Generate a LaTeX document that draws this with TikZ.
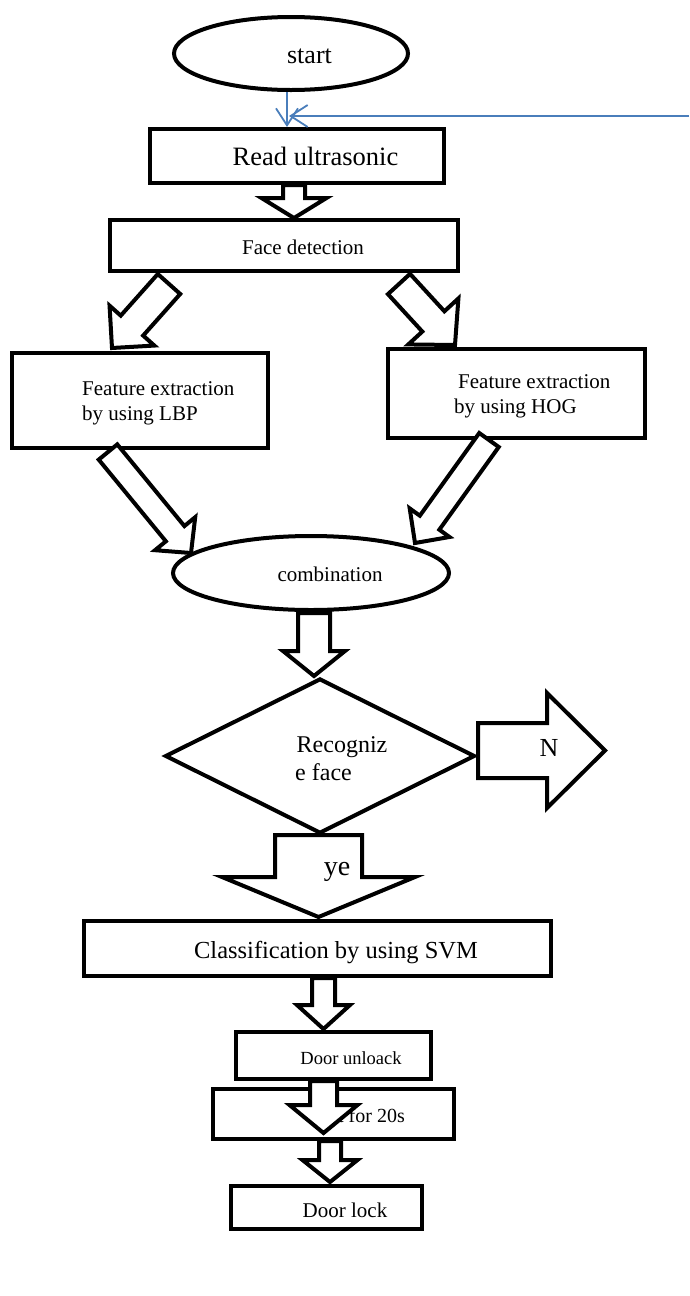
\documentclass[tikz,border=0pt]{standalone}
\usepackage{fontspec}
\setmainfont{Liberation Serif}
\usetikzlibrary{shapes.geometric,calc,arrows.meta}
\definecolor{linkblue}{HTML}{4A7EBB}
\newcommand{\fsz}[1]{\fontsize{#1}{#1}\selectfont}
% block arrow: #1 name, #2 tail coordinate, #3 tip coordinate, #4 shaft half width, #5 head half width, #6 head length
\newcommand{\blockarr}[6]{%
  \coordinate (#1-h) at ($(#3)!#6pt!(#2)$);
  \draw[barrow] ($(#2)!#4pt!90:(#3)$) -- ($(#1-h)!#4pt!90:(#3)$) -- ($(#1-h)!#5pt!90:(#3)$) -- (#3)
    -- ($(#1-h)!#5pt!-90:(#3)$) -- ($(#1-h)!#4pt!-90:(#3)$) -- ($(#2)!#4pt!-90:(#3)$) -- cycle;}
\begin{document}
\begin{tikzpicture}[x=1pt,y=-1pt,
  box/.style={draw, line width=4pt, inner sep=0pt, fill=white},
  oval/.style={ellipse, draw, line width=4pt, inner sep=0pt, fill=white},
  lbl/.style={inner sep=0pt, anchor=base},
  lblw/.style={inner sep=0pt, anchor=base west},
  barrow/.style={draw, fill=white, line width=4pt, line join=miter},
  bluearr/.style={draw=linkblue, line width=1.8pt, -{Straight Barb[length=17pt,width=22pt]}}]
\useasboundingbox (0,0) rectangle (689,1296);

% shapes
\node[oval, minimum width=234pt, minimum height=73pt] (start) at (291,53.5) {};
\node[box, minimum width=294pt, minimum height=54pt] (read) at (297,156) {};
\node[box, minimum width=348pt, minimum height=51pt] (face) at (284,245) {};
\node[box, minimum width=256pt, minimum height=95pt] (lbp) at (140,400.5) {};
\node[box, minimum width=257pt, minimum height=89pt] (hog) at (516.5,393.5) {};
\node[oval, minimum width=276pt, minimum height=74pt] (comb) at (311,573) {};
\node[diamond, draw, line width=4pt, inner sep=0pt, fill=white, minimum width=310pt, minimum height=155pt] (dec) at (320,756) {};
\node[box, minimum width=467pt, minimum height=55pt] (svm) at (317.5,948.5) {};
\node[box, minimum width=195pt, minimum height=47pt] (unlock) at (333.5,1055.5) {};
\node[box, minimum width=241pt, minimum height=50pt] (wait) at (333.5,1114) {};
\node[box, minimum width=191pt, minimum height=43pt] (lock) at (326.5,1207.5) {};

% texts
\node[lbl, font=\fsz{26}] (startT) at (309.5,63.5) {start};
\node[lbl, font=\fsz{26.5}] (readT) at (315.5,165.7) {Read ultrasonic};
\node[lbl, font=\fsz{21}] (faceT) at (303,254.3) {Face detection};
\node[lblw, font=\fsz{21}] (lbpT1) at (82,395) {Feature extraction};
\node[lblw, font=\fsz{21}] (lbpT2) at (82,420.5) {by using LBP};
\node[lblw, font=\fsz{21}] (hogT1) at (458,388) {Feature extraction};
\node[lblw, font=\fsz{21}] (hogT2) at (454,413) {by using HOG};
\node[lbl, font=\fsz{21}] (combT) at (330,581.7) {combination};
\node[lblw, font=\fsz{24}] (decT1) at (296.5,752.7) {Recogniz};
\node[lblw, font=\fsz{24}] (decT2) at (295,780) {e face};
\node[lbl, font=\fsz{24.5}] (svmT) at (336,958.3) {Classification by using SVM};
\node[lbl, font=\fsz{18.5}] (unlockT) at (351,1064) {Door unloack};
\node[inner sep=0pt, anchor=base east, font=\fsz{20}] (waitT) at (405,1122) {Wait for 20s};
\node[lbl, font=\fsz{21}] (lockT) at (345,1217.3) {Door lock};

% blue connectors
\coordinate (b1s) at (287,92);
\coordinate (b1e) at (287,127);
\coordinate (b2s) at (689,116);
\coordinate (b2e) at (289,116);
\draw[bluearr] (b1s) -- (b1e);
\draw[bluearr] (b2s) -- (b2e);

% block arrows
\coordinate (a1s) at (294,185);   \coordinate (a1e) at (294,218);
\coordinate (a2s) at (169,284);   \coordinate (a2e) at (112,348);
\coordinate (a3s) at (399,284);   \coordinate (a3e) at (455,345);
\coordinate (a4s) at (108,452);   \coordinate (a4e) at (191,553);
\coordinate (a5s) at (489,440);   \coordinate (a5e) at (415,543);
\coordinate (a6s) at (314,613);   \coordinate (a6e) at (314,676);
\coordinate (a7s) at (318.5,835); \coordinate (a7e) at (318.5,917);
\coordinate (a8s) at (478,750.5); \coordinate (a8e) at (605,750.5);
\coordinate (a9s) at (323.5,978); \coordinate (a9e) at (323.5,1029);
\coordinate (a10s) at (323.5,1081); \coordinate (a10e) at (323.5,1133);
\coordinate (a11s) at (330,1141); \coordinate (a11e) at (330,1182);

\blockarr{a1}{a1s}{a1e}{11}{32.5}{20}
\blockarr{a2}{a2s}{a2e}{15}{30}{30}
\blockarr{a3}{a3s}{a3e}{15}{34}{32}
\blockarr{a4}{a4s}{a4e}{12}{26}{25}
\blockarr{a5}{a5s}{a5e}{12}{24.5}{25}
\blockarr{a6}{a6s}{a6e}{16}{31}{25}
\blockarr{a7}{a7s}{a7e}{43.5}{96.5}{40}
\blockarr{a8}{a8s}{a8e}{27.5}{57.5}{58}
\blockarr{a9}{a9s}{a9e}{11.5}{26.5}{24}
\blockarr{a10}{a10s}{a10e}{13.5}{34}{28}
\blockarr{a11}{a11s}{a11e}{11}{27.5}{22}

% arrow labels
\node[lbl, font=\fsz{26}] (nT) at (549,756) {N};
\node[lbl, font=\fsz{28}] (yeT) at (337,875) {ye};
\end{tikzpicture}
\end{document}
